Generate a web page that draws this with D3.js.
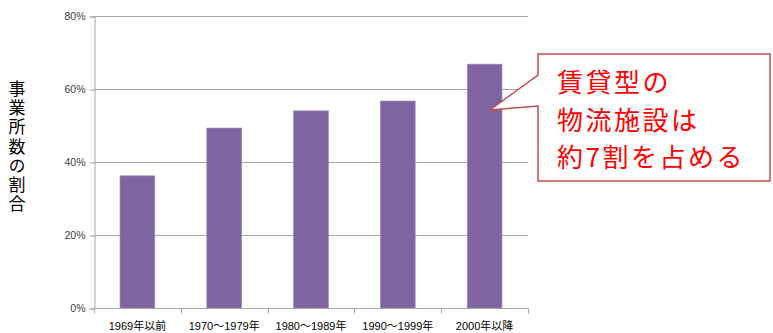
<!DOCTYPE html>
<html><head><meta charset="utf-8">
<script src="https://cdn.jsdelivr.net/npm/d3@7"></script>
<style>body{margin:0;background:#fff}svg{display:block}</style>
</head><body>
<svg id="c" width="773" height="333"></svg>
<script>
const categories = ["1969年以前","1970～1979年","1980～1989年","1990～1999年","2000年以降"];
const values = [36.2, 49.3, 54.0, 56.7, 66.8];
const yTicks = [0, 20, 40, 60, 80];
const yTitle = "事業所数の割合";
const calloutLines = ["賃貸型の","物流施設は","約7割を占める"];

const svg = d3.select("#c");
const m = {left:94, right:528, top:16, bottom:308};
const x = d3.scaleBand().domain(categories).range([m.left, m.right]).paddingInner(0.6).paddingOuter(0.3);
const xb = d3.scaleBand().domain(categories).range([m.left, m.right]);
const y = d3.scaleLinear().domain([0, 80]).range([m.bottom, m.top]);
const font = "'Liberation Sans', Arial, 'Noto Sans CJK JP', sans-serif";

// gridlines
svg.append("g").selectAll("line").data(yTicks.filter(d=>d>0)).join("line")
  .attr("x1", m.left).attr("x2", m.right)
  .attr("y1", d=>y(d)+0.5).attr("y2", d=>y(d)+0.5)
  .attr("stroke", "#a6a6a6").attr("stroke-width", 1);

// bars
svg.append("g").selectAll("rect").data(values).join("rect")
  .attr("x", (d,i)=>x(categories[i]))
  .attr("width", x.bandwidth())
  .attr("y", d=>y(d))
  .attr("height", d=>y(0)-y(d))
  .attr("fill", "#8064a2")
  .attr("stroke", "#9c86bb").attr("stroke-width", 0.7);

// y axis
const ya = d3.axisLeft(y).tickValues(yTicks).tickFormat(d=>d+"%").tickSize(5).tickPadding(4);
const gy = svg.append("g").attr("transform", `translate(${m.left+0.5},0.5)`).call(ya);
gy.select(".domain").attr("stroke", "#a6a6a6");
gy.selectAll(".tick line").attr("stroke", "#a6a6a6");
gy.selectAll("text").attr("font-family", font).attr("font-size", 10.5).attr("fill", "#404040");

// x axis
const gx = svg.append("g").attr("transform", `translate(0,${m.bottom+0.5})`);
gx.append("line").attr("x1", m.left).attr("x2", m.right).attr("stroke", "#a6a6a6");
const bounds = categories.map(c=>xb(c)).concat([m.right]);
gx.selectAll("line.tk").data(bounds).join("line").attr("class","tk")
  .attr("x1", d=>Math.round(d)+0.5).attr("x2", d=>Math.round(d)+0.5)
  .attr("y1", 0).attr("y2", 5).attr("stroke", "#a6a6a6");
gx.selectAll("text").data(categories).join("text")
  .attr("x", d=>xb(d)+xb.bandwidth()/2).attr("y", 21)
  .attr("text-anchor", "middle")
  .attr("font-family", font).attr("font-size", 11).attr("fill", "#000")
  .text(d=>d);

// y title (vertical)
svg.append("text")
  .attr("x", 17).attr("y", 80)
  .attr("font-family", "'Noto Sans CJK JP', sans-serif").attr("font-size", 17)
  .attr("fill", "#000")
  .style("writing-mode", "vertical-rl").style("text-orientation", "upright")
  .style("letter-spacing", "2.2px")
  .text(yTitle);

// callout
const bx0 = 538, by0 = 54, bx1 = 770, by1 = 181;
const tip = [490, 110];
const path = `M${bx0},${by0} L${bx1},${by0} L${bx1},${by1} L${bx0},${by1} L${bx0},106 L${tip[0]},${tip[1]} L${bx0},75 Z`;
svg.append("path").attr("d", path).attr("fill", "#fff")
  .attr("stroke", "#c0504d").attr("stroke-width", 1.5);
svg.append("g").selectAll("text").data(calloutLines).join("text")
  .attr("x", 557).attr("y", (d,i)=>92 + i*37.5)
  .attr("font-family", "'Noto Sans CJK JP', sans-serif").attr("font-size", 26)
  .style("letter-spacing", "2.5px")
  .attr("fill", "#ff0000")
  .text(d=>d);
</script>
</body></html>
